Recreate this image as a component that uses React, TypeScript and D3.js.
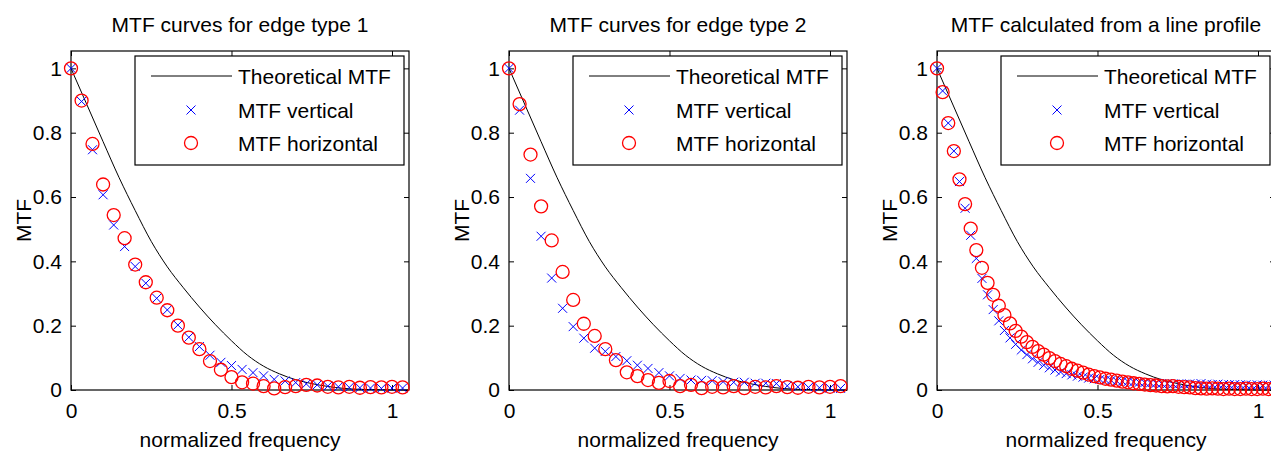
import React, { useEffect, useRef } from "react";
import * as d3 from "d3";

const W = 1271;
const H = 452;

const titles = [
  "MTF curves for edge type 1",
  "MTF curves for edge type 2",
  "MTF calculated from a line profile",
];
const legendLabels = ["Theoretical MTF", "MTF vertical", "MTF horizontal"];
const xLabel = "normalized frequency";
const yLabel = "MTF";
const yTicks = [0, 0.2, 0.4, 0.6, 0.8, 1];
const xTicks = [0, 0.5, 1];

// theoretical curve (same in every panel)
const theoFreq = [0, 0.05, 0.1, 0.15, 0.2, 0.25, 0.3, 0.35, 0.4, 0.45, 0.5, 0.55, 0.6, 0.65, 0.7, 0.75, 0.8, 0.85, 0.9, 0.95, 1.0, 1.05];
const theoMTF = [1.0, 0.886, 0.772, 0.66, 0.558, 0.462, 0.383, 0.318, 0.258, 0.203, 0.153, 0.108, 0.074, 0.05, 0.032, 0.02, 0.011, 0.005, 0.002, 0.001, 0.0, 0.0];

// edge type 1 and 2 share the frequency grid
const freq12 = [0, 0.033, 0.067, 0.1, 0.133, 0.167, 0.2, 0.233, 0.267, 0.3, 0.333, 0.367, 0.4, 0.433, 0.467, 0.5, 0.533, 0.567, 0.6, 0.633, 0.667, 0.7, 0.733, 0.767, 0.8, 0.833, 0.867, 0.9, 0.933, 0.967, 1.0, 1.033];
const vert1 = [1.0, 0.897, 0.747, 0.607, 0.513, 0.446, 0.384, 0.332, 0.285, 0.249, 0.202, 0.164, 0.135, 0.108, 0.086, 0.076, 0.064, 0.054, 0.044, 0.033, 0.028, 0.023, 0.019, 0.016, 0.012, 0.01, 0.008, 0.007, 0.006, 0.005, 0.006, 0.006];
const horiz1 = [1.0, 0.9, 0.765, 0.639, 0.544, 0.472, 0.39, 0.335, 0.287, 0.248, 0.2, 0.163, 0.127, 0.09, 0.063, 0.04, 0.024, 0.02, 0.012, 0.005, 0.009, 0.012, 0.016, 0.014, 0.01, 0.008, 0.01, 0.007, 0.009, 0.008, 0.01, 0.008];
const vert2 = [1.0, 0.87, 0.658, 0.478, 0.348, 0.254, 0.197, 0.161, 0.13, 0.12, 0.104, 0.091, 0.077, 0.067, 0.054, 0.044, 0.036, 0.031, 0.03, 0.029, 0.026, 0.024, 0.024, 0.021, 0.021, 0.02, 0.013, 0.01, 0.008, 0.007, 0.006, 0.005];
const horiz2 = [1.0, 0.889, 0.732, 0.571, 0.465, 0.367, 0.28, 0.206, 0.168, 0.127, 0.093, 0.055, 0.043, 0.031, 0.022, 0.028, 0.012, 0.016, 0.006, 0.01, 0.008, 0.012, 0.006, 0.01, 0.008, 0.012, 0.009, 0.007, 0.01, 0.008, 0.01, 0.012];

// line profile has a finer grid
const freq3 = [0, 0.0175, 0.035, 0.0525, 0.07, 0.0875, 0.105, 0.1225, 0.14, 0.1575, 0.175, 0.1925, 0.21, 0.2275, 0.245, 0.2625, 0.28, 0.2975, 0.315, 0.3325, 0.35, 0.3675, 0.385, 0.4025, 0.42, 0.4375, 0.455, 0.4725, 0.49, 0.5075, 0.525, 0.5425, 0.56, 0.5775, 0.595, 0.6125, 0.63, 0.6475, 0.665, 0.6825, 0.7, 0.7175, 0.735, 0.7525, 0.77, 0.7875, 0.805, 0.8225, 0.84, 0.8575, 0.875, 0.8925, 0.91, 0.9275, 0.945, 0.9625, 0.98, 0.9975, 1.015, 1.0325, 1.05];
const vert3 = [1.0, 0.93, 0.83, 0.743, 0.648, 0.565, 0.481, 0.409, 0.347, 0.296, 0.25, 0.215, 0.185, 0.162, 0.142, 0.124, 0.11, 0.097, 0.086, 0.077, 0.069, 0.062, 0.056, 0.051, 0.047, 0.043, 0.04, 0.037, 0.035, 0.033, 0.031, 0.03, 0.028, 0.027, 0.026, 0.025, 0.024, 0.023, 0.022, 0.021, 0.02, 0.02, 0.019, 0.019, 0.018, 0.019, 0.018, 0.02, 0.018, 0.017, 0.018, 0.017, 0.016, 0.017, 0.016, 0.016, 0.015, 0.016, 0.015, 0.015, 0.015];
const horiz3 = [1.0, 0.926, 0.83, 0.743, 0.655, 0.578, 0.502, 0.435, 0.38, 0.333, 0.296, 0.262, 0.233, 0.207, 0.184, 0.166, 0.149, 0.134, 0.121, 0.11, 0.099, 0.09, 0.081, 0.074, 0.066, 0.06, 0.054, 0.048, 0.043, 0.039, 0.035, 0.032, 0.029, 0.026, 0.024, 0.021, 0.019, 0.017, 0.015, 0.014, 0.012, 0.011, 0.012, 0.01, 0.009, 0.008, 0.006, 0.005, 0.004, 0.005, 0.004, 0.003, 0.004, 0.003, 0.003, 0.004, 0.003, 0.003, 0.004, 0.003, 0.003];

const panels = [
  { title: titles[0], freq: freq12, vert: vert1, horiz: horiz1 },
  { title: titles[1], freq: freq12, vert: vert2, horiz: horiz2 },
  { title: titles[2], freq: freq3, vert: vert3, horiz: horiz3 },
];

const FONT = "'Liberation Sans', Arial, Helvetica, sans-serif";
const FS = 21;
const PANEL_LEFT = [71, 509, 937];
const PLOT_W = 338;
const PLOT_TOP = 51;
const PLOT_BOTTOM = 390;
const X_MAX = 1.053;
const Y_MAX = 1.054;
const CROSS = "M-4.5,-4.5L4.5,4.5M-4.5,4.5L4.5,-4.5";

export default function App() {
  const ref = useRef<SVGSVGElement>(null);

  useEffect(() => {
    const svg = d3.select(ref.current);
    svg.selectAll("*").remove();

    panels.forEach((p, i) => {
      const left = PANEL_LEFT[i];
      const x = d3.scaleLinear().domain([0, X_MAX]).range([left, left + PLOT_W]);
      const y = d3.scaleLinear().domain([0, Y_MAX]).range([PLOT_BOTTOM, PLOT_TOP]);
      const g = svg.append("g");

      // axes, ticks point inward on all four sides
      const fmt = (d: any) => String(d);
      const styleAxis = (sel: any) => {
        sel.select(".domain").remove();
        sel.attr("font-size", FS).attr("font-family", FONT);
        sel.selectAll("text").attr("fill", "#000");
        sel.selectAll("line").attr("stroke", "#000");
      };
      g.append("g")
        .attr("transform", `translate(0,${PLOT_BOTTOM})`)
        .call(d3.axisBottom(x).tickValues(xTicks).tickSizeInner(-5).tickSizeOuter(0).tickPadding(13).tickFormat(fmt))
        .call(styleAxis);
      g.append("g")
        .attr("transform", `translate(0,${PLOT_TOP})`)
        .call(d3.axisTop(x).tickValues(xTicks).tickSizeInner(-5).tickSizeOuter(0).tickFormat(() => ""))
        .call(styleAxis);
      g.append("g")
        .attr("transform", `translate(${left},0)`)
        .call(d3.axisLeft(y).tickValues(yTicks).tickSizeInner(-5).tickSizeOuter(0).tickPadding(9).tickFormat(fmt))
        .call(styleAxis);
      g.append("g")
        .attr("transform", `translate(${left + PLOT_W},0)`)
        .call(d3.axisRight(y).tickValues(yTicks).tickSizeInner(-5).tickSizeOuter(0).tickFormat(() => ""))
        .call(styleAxis);

      g.append("rect")
        .attr("x", left)
        .attr("y", PLOT_TOP)
        .attr("width", PLOT_W)
        .attr("height", PLOT_BOTTOM - PLOT_TOP)
        .attr("fill", "none")
        .attr("stroke", "#000")
        .attr("stroke-width", 1.2);

      // theoretical curve
      const line = d3.line<number>()
        .x((d, k) => x(theoFreq[k]))
        .y((d) => y(d))
        .curve(d3.curveMonotoneX);
      g.append("path")
        .datum(theoMTF)
        .attr("d", line)
        .attr("fill", "none")
        .attr("stroke", "#000")
        .attr("stroke-width", 1);

      g.append("g")
        .selectAll("path")
        .data(p.vert)
        .join("path")
        .attr("d", CROSS)
        .attr("transform", (d, k) => `translate(${x(p.freq[k])},${y(d)})`)
        .attr("fill", "none")
        .attr("stroke", "#0000ff")
        .attr("stroke-width", 1);

      g.append("g")
        .selectAll("circle")
        .data(p.horiz)
        .join("circle")
        .attr("cx", (d, k) => x(p.freq[k]))
        .attr("cy", (d) => y(d))
        .attr("r", 6.5)
        .attr("fill", "none")
        .attr("stroke", "#ff0000")
        .attr("stroke-width", 1.3);

      // legend
      const lx = left + 64;
      const ly = PLOT_TOP + 5;
      const leg = g.append("g").attr("transform", `translate(${lx},${ly})`);
      leg.append("rect")
        .attr("width", 269)
        .attr("height", 109)
        .attr("fill", "#fff")
        .attr("stroke", "#000")
        .attr("stroke-width", 1.2);
      const rowY = [20, 54, 87];
      leg.append("line")
        .attr("x1", 16).attr("x2", 97)
        .attr("y1", rowY[0]).attr("y2", rowY[0])
        .attr("stroke", "#000");
      leg.append("path")
        .attr("d", CROSS)
        .attr("transform", `translate(56,${rowY[1]})`)
        .attr("fill", "none")
        .attr("stroke", "#0000ff");
      leg.append("circle")
        .attr("cx", 56).attr("cy", rowY[2]).attr("r", 6.5)
        .attr("fill", "none")
        .attr("stroke", "#ff0000")
        .attr("stroke-width", 1.3);
      leg.selectAll("text.lab")
        .data(legendLabels)
        .join("text")
        .attr("class", "lab")
        .attr("x", 103)
        .attr("y", (d, k) => rowY[k])
        .attr("dy", "0.36em")
        .attr("font-size", FS)
        .attr("font-family", FONT)
        .text((d) => d);

      const cx = left + PLOT_W / 2;
      g.append("text")
        .attr("x", cx)
        .attr("y", 32)
        .attr("text-anchor", "middle")
        .attr("font-size", FS)
        .attr("font-family", FONT)
        .text(p.title);
      g.append("text")
        .attr("x", cx)
        .attr("y", 447)
        .attr("text-anchor", "middle")
        .attr("font-size", FS)
        .attr("font-family", FONT)
        .text(xLabel);
      g.append("text")
        .attr("transform", `translate(${left - 40},${(PLOT_TOP + PLOT_BOTTOM) / 2}) rotate(-90)`)
        .attr("text-anchor", "middle")
        .attr("font-size", FS)
        .attr("font-family", FONT)
        .text(yLabel);
    });
  }, []);

  return (
    <svg
      ref={ref}
      width={W}
      height={H}
      style={{ position: "absolute", left: 0, top: 0, background: "#fff", display: "block" }}
    />
  );
}
